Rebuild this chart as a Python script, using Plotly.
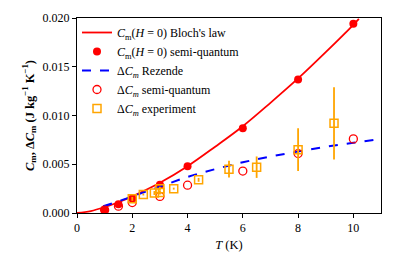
import plotly.graph_objects as go

# Bloch's law curve
bloch_T = [0, 0.5, 1, 1.5, 2, 3, 4, 5, 6, 7, 8, 9, 10, 10.2]
bloch_C = [0, 0.0002, 0.0006, 0.0011, 0.0017, 0.0031, 0.0048, 0.0068, 0.0089,
           0.0113, 0.0138, 0.0165, 0.0193, 0.0199]

# C_m(H=0) semi-quantum (filled red)
sq_T = [1, 1.5, 2, 3, 4, 6, 8, 10]
sq_C = [0.00035, 0.0009, 0.0015, 0.0029, 0.0048, 0.0087, 0.0137, 0.0194]

# Delta C_m Rezende (dashed blue)
rez_T = [0.95, 1.5, 2, 3, 4, 5, 6, 7, 8, 9, 10, 11]
rez_C = [0.0007, 0.0012, 0.0017, 0.0027, 0.0037, 0.0045, 0.0052, 0.0058,
         0.0063, 0.0068, 0.0072, 0.0076]

# Delta C_m semi-quantum (open red)
dsq_T = [1, 1.5, 2, 3, 4, 6, 8, 10]
dsq_C = [0.0003, 0.0007, 0.00107, 0.0017, 0.00285, 0.0043, 0.0061, 0.0076]

# Delta C_m experiment (orange squares)
exp_T = [2.0, 2.4, 2.8, 3.0, 3.0, 3.5, 4.4, 5.5, 6.5, 8.0, 9.3]
exp_C = [0.00145, 0.0019, 0.00205, 0.0021, 0.0025, 0.0025, 0.0034, 0.0045,
         0.0047, 0.0065, 0.0092]
exp_err = [0.0002, 0.0001, 0.0002, 0.0002, 0.0002, 0.0001, 0.0002, 0.00085,
           0.0011, 0.0022, 0.0037]

FONT = "Liberation Serif"
RED = "#ff0000"
ORANGE = "#ffa500"

fig = go.Figure()
fig.add_trace(go.Scatter(
    x=bloch_T, y=bloch_C, mode="lines", line=dict(color=RED, width=1.8, shape="spline"),
    name="<i>C</i><sub>m</sub>(<i>H</i> = 0) Bloch's law"))
fig.add_trace(go.Scatter(
    x=sq_T, y=sq_C, mode="markers", marker=dict(color=RED, size=8, symbol="circle"),
    name="<i>C</i><sub>m</sub>(<i>H</i> = 0) semi-quantum"))
fig.add_trace(go.Scatter(
    x=rez_T, y=rez_C, mode="lines", line=dict(color="#0000ff", width=2, dash="dash", shape="spline"),
    name="Δ<i>C<sub>m</sub></i> Rezende"))
fig.add_trace(go.Scatter(
    x=dsq_T, y=dsq_C, mode="markers",
    marker=dict(color=RED, size=8, symbol="circle-open", line=dict(width=1.3)),
    name="Δ<i>C<sub>m</sub></i> semi-quantum"))
fig.add_trace(go.Scatter(
    x=exp_T, y=exp_C, mode="markers",
    marker=dict(color=ORANGE, size=8, symbol="square-open", line=dict(width=1.5)),
    error_y=dict(type="data", array=exp_err, color=ORANGE, thickness=1.8, width=0),
    name="Δ<i>C<sub>m</sub></i> experiment"))

axis_common = dict(showline=True, mirror=True, linecolor="black", linewidth=1,
                   ticks="outside", ticklen=4, tickcolor="black", showgrid=False,
                   zeroline=False, automargin=False,
                   tickfont=dict(family=FONT, size=12, color="black"))

# page body has an 8px default margin, so the figure is drawn 8px smaller/shifted
fig.update_layout(
    width=392, height=262,
    margin=dict(l=69, r=19, t=10, b=57),
    paper_bgcolor="white", plot_bgcolor="white",
    font=dict(family=FONT, size=12, color="black"),
    xaxis=dict(range=[0, 11], dtick=2, tick0=0,
               title=dict(text="<i>T</i> (K)", font=dict(family=FONT, size=12.5), standoff=5),
               **axis_common),
    yaxis=dict(range=[0, 0.02], dtick=0.005, tick0=0, tickformat=".3f",
               title=dict(text="<b><i>C</i><sub>m</sub>, Δ<i>C</i><sub>m</sub> (J kg<sup>−1</sup> K<sup>−1</sup>)</b>",
                          font=dict(family=FONT, size=12.5), standoff=5),
               **axis_common),
    legend=dict(x=0.0, y=1.0, xanchor="left", yanchor="top",
                bgcolor="rgba(0,0,0,0)", font=dict(family=FONT, size=12),
                tracegroupgap=0, itemwidth=30),
    showlegend=True,
)

fig.write_html("out.html")
